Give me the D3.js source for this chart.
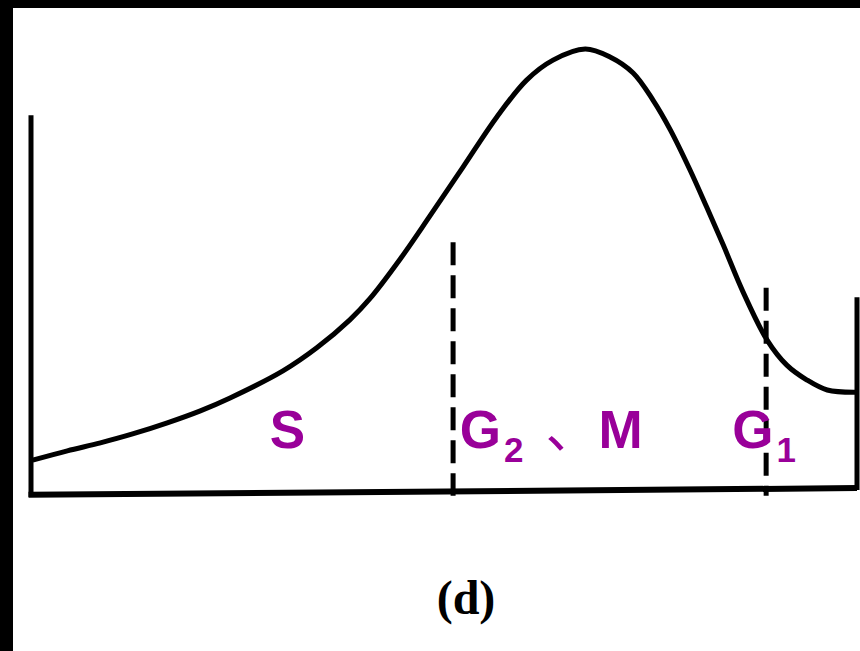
<!DOCTYPE html>
<html>
<head>
<meta charset="utf-8">
<script src="https://cdn.jsdelivr.net/npm/d3@7"></script>
<style>
  html, body { margin: 0; padding: 0; background: #000; }
  svg { display: block; }
</style>
</head>
<body>
<svg id="chart" width="860" height="651"></svg>
<script>
// Cell-cycle DNA content distribution (relative units, 0–100 on both axes)
const curveX = [0.2, 4.4, 8.4, 12.3, 16.5, 20.5, 24.1, 30.5, 34.6, 38.6, 41.0, 44.7, 48.3, 52.3, 56.4, 60.0, 63.2, 67.1,
                70.1, 72.9, 75.3, 77.4, 79.8, 81.8, 83.8, 86.2, 89.1, 91.5, 93.9, 96.4, 99.8];
const curveY = [7.4, 9.5, 11.3, 13.3, 15.8, 18.5, 21.4, 27.5, 32.7, 39.0, 43.7, 52.7, 62.4, 73.4, 84.7, 93.0, 97.5, 100,
                98.2, 94.6, 88.5, 81.8, 72.7, 64.4, 55.9, 45.3, 34.5, 28.8, 25.5, 23.2, 22.7];

// Phase boundaries (dashed) and their top ends
const boundaryX = [51.1, 89.0];
const boundaryTop = [56.5, 46.2];

// Axis frame extents
const leftAxisTop = 85.1;
const rightAxisTop = 44.1;

// Phase labels: main letter, subscript, position (x in data units)
const phaseLabels = [
  { main: "S", sub: "", x: 28.9 },
  { main: "G", sub: "2", x: 51.9 },
  { main: "、", sub: "", x: 62.3 },
  { main: "M", sub: "", x: 68.7 },
  { main: "G", sub: "1", x: 84.9 }
];
const panelLabel = "(d)";

const svg = d3.select("#chart");
const W = 860, H = 651;

// page: black edge on top and left, white drawing area
svg.append("rect").attr("width", W).attr("height", H).attr("fill", "#000");
svg.append("rect").attr("x", 13).attr("y", 8).attr("width", W - 13).attr("height", H - 8).attr("fill", "#fff");

const x = d3.scaleLinear().domain([0, 100]).range([31, 857]);
const y = d3.scaleLinear().domain([0, 100]).range([493, 49]);

const g = svg.append("g");

// baseline
g.append("line")
  .attr("x1", x(-0.3)).attr("x2", x(100))
  .attr("y1", y(-0.4)).attr("y2", y(1.1))
  .attr("stroke", "#000").attr("stroke-width", 6);

// left vertical axis
g.append("line")
  .attr("x1", x(0)).attr("x2", x(0))
  .attr("y1", y(leftAxisTop)).attr("y2", y(-0.9))
  .attr("stroke", "#000").attr("stroke-width", 5);

// right vertical axis
g.append("line")
  .attr("x1", x(100)).attr("x2", x(100))
  .attr("y1", y(rightAxisTop)).attr("y2", y(0.7))
  .attr("stroke", "#000").attr("stroke-width", 5);

// distribution curve
const pts = curveX.map((v, i) => [v, curveY[i]]);
g.append("path")
  .datum(pts)
  .attr("fill", "none")
  .attr("stroke", "#000")
  .attr("stroke-width", 5)
  .attr("stroke-linejoin", "round")
  .attr("d", d3.line().x(d => x(d[0])).y(d => y(d[1])).curve(d3.curveCatmullRom.alpha(0.5)));

// dashed phase boundaries
g.selectAll("line.boundary")
  .data(boundaryX)
  .join("line")
  .attr("class", "boundary")
  .attr("x1", d => x(d)).attr("x2", d => x(d))
  .attr("y1", (d, i) => y(boundaryTop[i])).attr("y2", y(-0.6))
  .attr("stroke", "#000").attr("stroke-width", 5)
  .attr("stroke-dasharray", "23,10");

// phase labels
const labels = g.selectAll("text.phase")
  .data(phaseLabels)
  .join("text")
  .attr("class", "phase")
  .attr("x", d => x(d.x))
  .attr("y", 448)
  .attr("fill", "#990099")
  .attr("font-family", "'Liberation Sans', Arial, 'Noto Sans CJK SC', sans-serif")
  .attr("font-weight", "bold")
  .attr("font-size", 53);
labels.append("tspan").text(d => d.main)
  .attr("font-family", d => d.main === "、" ? "'Noto Sans CJK SC', sans-serif" : null)
  .attr("font-weight", d => d.main === "、" ? "normal" : null);
labels.filter(d => d.sub)
  .append("tspan").text(d => d.sub)
  .attr("font-size", 35)
  .attr("dx", 3)
  .attr("dy", 14);

// panel caption
svg.append("text")
  .attr("x", 466).attr("y", 614)
  .attr("text-anchor", "middle")
  .attr("font-family", "'Liberation Serif', 'Times New Roman', serif")
  .attr("font-weight", "bold")
  .attr("font-size", 48)
  .attr("fill", "#000")
  .text(panelLabel);
</script>
</body>
</html>
